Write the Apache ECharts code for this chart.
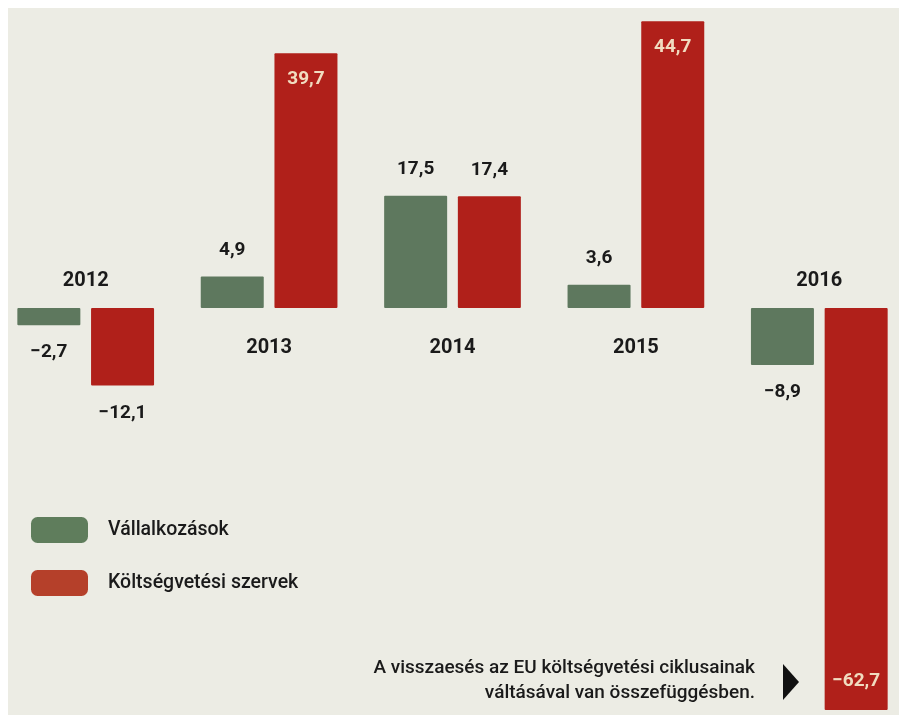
<!DOCTYPE html>
<html>
<head>
<meta charset="utf-8">
<script src="https://cdn.jsdelivr.net/npm/echarts@6/dist/echarts.min.js"></script>
<style>
  html, body { margin: 0; padding: 0; background: #ffffff; }
  #chart { width: 899px; height: 715px; }
</style>
</head>
<body>
<div id="chart"></div>
<script>
// Years shown as groups
const years = ['2012', '2013', '2014', '2015', '2016'];
// Change, percent – businesses
const vallalkozasok = [-2.7, 4.9, 17.5, 3.6, -8.9];
// Change, percent – budgetary institutions
const koltsegvetesi = [-12.1, 39.7, 17.4, 44.7, -62.7];
// Series names
const seriesNames = ['Vállalkozások', 'Költségvetési szervek'];

const GREEN = '#5e785e';
const RED = '#b0201a';
const INK = '#1a1a1a';
const CREAM = '#f1dcc0';

const fmt = v => String(v).replace('.', ',').replace('-', '\u2212');

// Year label sits on the side of the baseline opposite the bars
const yearLabelPos = years.map((y, i) => {
  const neg = vallalkozasok[i] < 0 && koltsegvetesi[i] < 0;
  return neg ? 4.2 : -6.3;
});

// Tall bars carry their value inside the bar
const insideLabel = v => Math.abs(v) > 30;

const labelFont = {
  fontFamily: 'Roboto',
  fontWeight: 'bold',
  fontSize: 19
};

function barData(values) {
  return values.map(v => {
    const inside = insideLabel(v);
    let position, distance;
    if (inside) {
      position = v > 0 ? 'insideTop' : 'insideBottom';
      distance = v > 0 ? 17 : 19;
    } else {
      position = v > 0 ? 'top' : 'bottom';
      distance = v > 0 ? 17 : 18;
    }
    return {
      value: v,
      label: {
        show: true,
        position,
        distance,
        color: inside ? CREAM : INK,
        formatter: p => fmt(p.value),
        ...labelFont
      }
    };
  });
}

const chart = echarts.init(document.getElementById('chart'), null, { renderer: 'canvas' });

chart.setOption({
  backgroundColor: 'transparent',
  animation: false,
  graphic: [
    {
      type: 'rect',
      z: -10,
      silent: true,
      shape: { x: 8, y: 8, width: 891, height: 707 },
      style: { fill: '#ecece4' }
    },
    {
      type: 'text',
      x: 755,
      y: 656,
      style: {
        text: 'A visszaesés az EU költségvetési ciklusainak\nváltásával van összefüggésben.',
        align: 'right',
        verticalAlign: 'top',
        fill: INK,
        font: '500 19px Roboto',
        lineHeight: 25
      }
    },
    {
      type: 'polygon',
      shape: { points: [[783, 664], [799, 682], [783, 700]] },
      style: { fill: '#111111' }
    }
  ],
  legend: {
    data: [
      { name: seriesNames[0], itemStyle: { color: '#5f7d5c' } },
      { name: seriesNames[1], itemStyle: { color: '#b5402a' } }
    ],
    orient: 'vertical',
    left: 31,
    top: 517,
    padding: 0,
    itemWidth: 57,
    itemHeight: 26,
    itemGap: 27,
    icon: 'roundRect',
    textStyle: {
      fontFamily: 'Roboto',
      fontWeight: 500,
      fontSize: 19.5,
      color: INK,
      padding: [0, 0, 0, 15]
    }
  },
  grid: {
    left: -6,
    width: 917,
    top: 0,
    height: 712,
    outerBoundsMode: 'none',
    containLabel: false
  },
  xAxis: {
    type: 'category',
    data: years,
    axisLine: { show: false },
    axisTick: { show: false },
    axisLabel: { show: false },
    splitLine: { show: false }
  },
  yAxis: {
    type: 'value',
    min: -63,
    max: 48,
    show: false,
    splitLine: { show: false }
  },
  series: [
    {
      name: seriesNames[0],
      type: 'bar',
      barWidth: 63,
      barGap: '17%',
      itemStyle: { color: GREEN, borderRadius: 1 },
      data: barData(vallalkozasok)
    },
    {
      name: seriesNames[1],
      type: 'bar',
      barWidth: 63,
      itemStyle: { color: RED, borderRadius: 1 },
      data: barData(koltsegvetesi)
    },
    {
      name: 'years',
      type: 'scatter',
      symbolSize: 0,
      silent: true,
      itemStyle: { opacity: 1 },
      data: yearLabelPos,
      label: {
        show: true,
        position: 'inside',
        color: INK,
        opacity: 1,
        formatter: p => years[p.dataIndex],
        fontFamily: 'Roboto',
        fontWeight: 'bold',
        fontSize: 20
      }
    }
  ]
});
</script>
</body>
</html>
